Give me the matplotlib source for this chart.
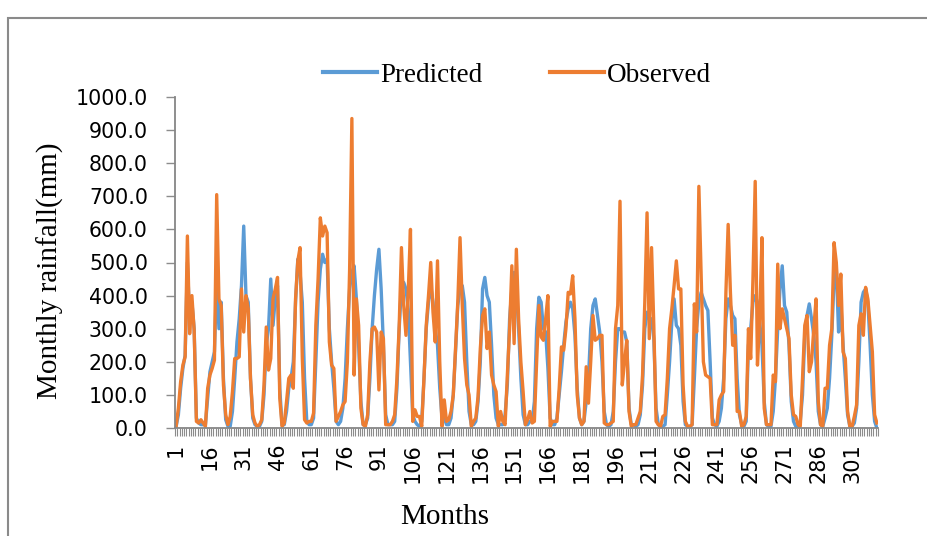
import matplotlib
matplotlib.use("Agg")
import matplotlib.pyplot as plt
import numpy as np
from matplotlib.patches import Rectangle
from matplotlib.lines import Line2D

months = list(range(1, 313))

observed = [
    5, 60, 140, 190, 215, 580, 285, 400, 295, 20, 15, 25,
    15, 5, 120, 160, 180, 205, 705, 390, 370, 130, 40, 10,
    35, 110, 210, 210, 215, 420, 290, 400, 360, 150, 40, 15,
    5, 10, 25, 130, 305, 175, 210, 390, 420, 455, 90, 5,
    15, 80, 150, 160, 120, 390, 505, 545, 210, 25, 15, 20,
    20, 45, 310, 450, 635, 580, 610, 590, 260, 190, 180, 20,
    35, 50, 70, 80, 200, 480, 935, 160, 390, 310, 60, 10,
    5, 40, 200, 300, 305, 290, 115, 290, 270, 10, 10, 10,
    20, 40, 150, 310, 545, 370, 280, 410, 600, 20, 55, 35,
    35, 5, 150, 310, 400, 500, 350, 260, 505, 200, 5, 85,
    20, 25, 50, 100, 240, 380, 575, 370, 210, 130, 100, 5,
    20, 30, 95, 240, 340, 360, 240, 290, 160, 130, 110, 5,
    50, 20, 10, 160, 300, 490, 255, 540, 330, 200, 110, 10,
    25, 50, 15, 20, 200, 370, 275, 265, 330, 400, 5, 20,
    20, 20, 120, 245, 235, 300, 410, 405, 460, 330, 100, 30,
    10, 20, 185, 75, 200, 340, 265, 270, 280, 280, 15, 10,
    10, 15, 20, 300, 370, 685, 130, 200, 265, 50, 5, 10,
    10, 30, 50, 160, 380, 650, 270, 545, 310, 20, 10, 5,
    35, 40, 150, 300, 360, 430, 505, 420, 420, 130, 20, 5,
    5, 10, 375, 290, 730, 460, 200, 160, 155, 150, 10, 10,
    10, 85, 100, 110, 410, 615, 410, 250, 280, 50, 50, 5,
    10, 35, 300, 210, 450, 745, 190, 330, 575, 60, 10, 10,
    10, 160, 140, 495, 300, 360, 330, 300, 270, 100, 40, 35,
    10, 5, 150, 310, 340, 170, 200, 300, 390, 80, 10, 5,
    120, 120, 250, 300, 560, 500, 370, 465, 230, 210, 50, 5,
    5, 35, 70, 310, 345, 280, 425, 390, 310, 230, 40, 15,
]

predicted = [
    5, 40, 120, 180, 220, 500, 330, 380, 300, 30, 15, 10,
    10, 10, 90, 170, 200, 230, 450, 300, 380, 150, 25, 5,
    5, 50, 150, 260, 330, 430, 610, 400, 380, 150, 30, 10,
    5, 5, 20, 100, 250, 300, 450, 310, 390, 430, 120, 10,
    10, 50, 120, 150, 200, 380, 510, 470, 380, 150, 20, 10,
    10, 30, 200, 380, 480, 525, 500, 510, 300, 200, 120, 20,
    10, 20, 60, 150, 300, 420, 470, 490, 390, 250, 80, 10,
    10, 30, 150, 300, 400, 480, 540, 420, 250, 40, 10, 10,
    10, 20, 120, 300, 430, 440, 420, 360, 200, 40, 20, 10,
    5, 20, 150, 300, 380, 430, 380, 300, 250, 120, 30, 30,
    10, 10, 30, 100, 230, 370, 420, 430, 380, 200, 50, 10,
    10, 20, 80, 200, 420, 455, 400, 380, 250, 100, 30, 10,
    10, 10, 40, 130, 330, 420, 470, 420, 300, 150, 40, 10,
    10, 20, 20, 80, 300, 395, 380, 300, 290, 180, 30, 10,
    10, 30, 100, 170, 250, 320, 360, 380, 360, 280, 120, 30,
    10, 20, 80, 150, 300, 370, 390, 340, 290, 200, 50, 10,
    5, 10, 50, 200, 300, 300, 290, 290, 260, 60, 10, 10,
    5, 10, 40, 130, 300, 350, 330, 330, 270, 60, 10, 5,
    5, 10, 100, 200, 320, 390, 310, 300, 250, 80, 10, 5,
    5, 10, 150, 300, 380, 410, 390, 370, 355, 200, 30, 10,
    5, 20, 60, 150, 330, 390, 370, 340, 330, 150, 40, 10,
    5, 20, 250, 300, 380, 400, 380, 320, 250, 80, 10, 5,
    5, 50, 150, 300, 420, 490, 370, 350, 250, 80, 20, 5,
    5, 20, 100, 280, 340, 375, 330, 280, 200, 50, 10, 5,
    30, 60, 150, 280, 450, 480, 290, 380, 250, 150, 40, 5,
    5, 15, 60, 200, 380, 410, 420, 380, 250, 100, 20, 0,
]

x_tick_labels = [str(m) for m in range(1, 302, 15)]
y_tick_values = [0, 100, 200, 300, 400, 500, 600, 700, 800, 900, 1000]
series_names = ["Predicted", "Observed"]

BLUE = "#5B9BD5"
ORANGE = "#ED7D31"
GRAY = "#8a8a8a"

W, H = 927, 536
fig = plt.figure(figsize=(W / 100, H / 100), dpi=100)
fig.patch.set_facecolor("white")

# chart-area frame (extends beyond right/bottom edges)
fig.add_artist(Rectangle((8 / W, -0.5), 2.0, 0.5 + (1 - 18 / H),
                         transform=fig.transFigure, fill=False,
                         edgecolor=GRAY, lw=1.5))

ax = fig.add_axes([175 / W, 1 - 428 / H, (878 - 175) / W, (428 - 97) / H])
ax.plot(months, predicted, color=BLUE, lw=2.4, solid_joinstyle="round")
ax.plot(months, observed, color=ORANGE, lw=2.4, solid_joinstyle="round")

ax.set_xlim(0.5, 312.5)
ax.set_ylim(0, 1000)

ax.set_yticks(y_tick_values)
ax.set_yticklabels([f"{v:.1f}" for v in y_tick_values],
                   fontsize=14.8, family="DejaVu Sans")
major_pos = [int(s) for s in x_tick_labels]
ax.set_xticks(major_pos)
ax.set_xticklabels(x_tick_labels, rotation=90, fontsize=15,
                   family="DejaVu Sans")
ax.set_xticks(np.arange(0.5, 313, 1), minor=True)
ax.tick_params(axis="x", which="major", length=0, pad=11)
ax.tick_params(axis="x", which="minor", length=5.5, width=0.8,
               color="#8c8c8c", direction="out")
ax.tick_params(axis="y", which="major", length=6.5, width=1.0,
               color="#8c8c8c", pad=13)

for s in ("top", "right"):
    ax.spines[s].set_visible(False)
for s in ("left", "bottom"):
    ax.spines[s].set_color("#868686")
    ax.spines[s].set_linewidth(1.3)

handles = [Line2D([], [], color=BLUE, lw=3),
           Line2D([], [], color=ORANGE, lw=3)]
fig.legend(handles, series_names, loc="center",
           bbox_to_anchor=(517 / W, 1 - 75 / H), ncol=2, frameon=False,
           prop={"family": "Liberation Serif", "size": 19.5},
           handlelength=2.0, handletextpad=0.12, columnspacing=2.5,
           borderpad=0, borderaxespad=0)

fig.text(50 / W, 1 - 271 / H, "Monthly rainfall(mm)", rotation=90,
         ha="center", va="center", family="Liberation Serif", fontsize=21)
fig.text(445 / W, 1 - 517 / H, "Months", ha="center", va="center",
         family="Liberation Serif", fontsize=21)

fig.savefig("out.png", dpi=100, facecolor="white")
